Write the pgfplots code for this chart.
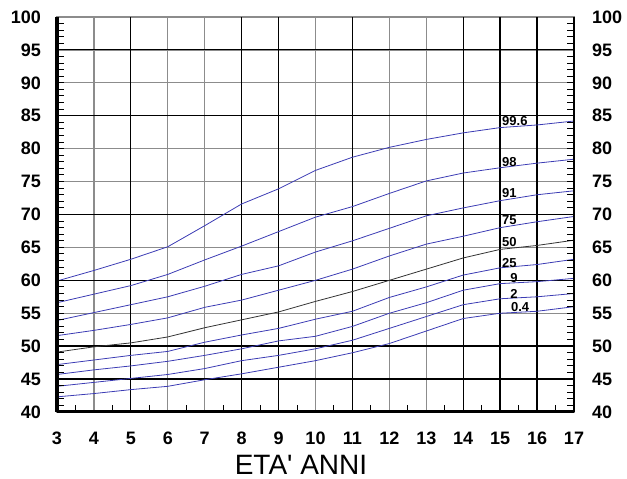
\documentclass[border=0pt]{standalone}
\usepackage{fontspec}
\setmainfont{Liberation Sans}
\newfontfamily\plainfont{Liberation Sans}[Ligatures=TeXOff]
\usepackage{pgfplots}
\pgfplotsset{compat=1.18}
\usepackage{pgfplotstable}

\definecolor{centile}{HTML}{3C3CB4}
\definecolor{median}{HTML}{333333}
\definecolor{gridgray}{HTML}{8C8C8C}

% centili (cm) per eta' in anni
\pgfplotstableread{
eta p004 p02  p09  p25  p50  p75  p91  p98  p996
3   42.3 43.9 45.7 47.2 49.1 51.6 53.9 56.6 59.9
4   42.8 44.5 46.4 47.9 49.9 52.4 55.1 57.9 61.5
5   43.4 45.1 47.0 48.6 50.5 53.3 56.3 59.2 63.2
6   43.9 45.7 47.7 49.2 51.4 54.3 57.5 60.9 65.1
7   44.9 46.6 48.6 50.6 52.8 55.9 59.1 63.1 68.3
8   45.8 47.8 49.6 51.7 54.0 57.0 60.9 65.2 71.6
9   46.8 48.6 50.8 52.7 55.2 58.5 62.2 67.4 73.9
10  47.8 49.6 51.5 54.1 56.8 60.0 64.3 69.6 76.7
11  49.0 50.9 53.0 55.3 58.3 61.7 66.0 71.2 78.7
12  50.4 52.7 55.0 57.4 60.0 63.7 67.9 73.2 80.2
13  52.3 54.5 56.6 59.0 61.7 65.5 69.8 75.1 81.4
14  54.2 56.3 58.5 60.8 63.4 66.7 71.0 76.3 82.4
15  55.0 57.2 59.5 61.9 64.7 68.0 72.1 77.1 83.2
16  55.3 57.5 59.8 62.4 65.3 68.9 73.0 77.8 83.6
17  56.0 58.0 60.3 63.2 66.1 69.7 73.6 78.4 84.2
}\centili

\begin{document}
\begin{tikzpicture}
\pgfplotsset{
  every axis/.append style={
    at={(57bp,67bp)}, anchor=south west,
    scale only axis, width=517bp, height=395bp,
    xmin=3, xmax=17, ymin=40, ymax=100,
    /pgf/number format/assume math mode=true,
    ticklabel style={font=\fontsize{18bp}{19bp}\selectfont\bfseries, inner sep=0pt},
  }
}
\begin{axis}[
  axis line style={gridgray, line width=1.5bp},
  xtick={3,...,17}, ytick={40,45,...,100},
  yticklabel pos=left,
  major tick length=0pt,
  grid=major,
  major grid style={gridgray, line width=1.2bp},
  yticklabel style={anchor=east, xshift=-16bp},
  xticklabel style={anchor=north, yshift=-19.7bp},
  clip=false,
]
% linee di griglia piu' marcate
\pgfplotsinvokeforeach{5,11,14}{\draw[black, line width=0.9bp] (axis cs:#1,40) -- (axis cs:#1,100);}
\pgfplotsinvokeforeach{8,9,15,16}{\draw[black, line width=1.6bp] (axis cs:#1,40) -- (axis cs:#1,100);}
\pgfplotsinvokeforeach{70,85,95}{\draw[black, line width=0.9bp] (axis cs:3,#1) -- (axis cs:17,#1);}
\pgfplotsinvokeforeach{45,50,60}{\draw[black, line width=1.6bp] (axis cs:3,#1) -- (axis cs:17,#1);}

\addplot[centile, line width=0.8bp] table[x=eta, y=p004] {\centili};
\addplot[centile, line width=0.8bp] table[x=eta, y=p02] {\centili};
\addplot[centile, line width=0.8bp] table[x=eta, y=p09] {\centili};
\addplot[centile, line width=0.8bp] table[x=eta, y=p25] {\centili};
\addplot[median,  line width=0.8bp] table[x=eta, y=p50] {\centili};
\addplot[centile, line width=0.8bp] table[x=eta, y=p75] {\centili};
\addplot[centile, line width=0.8bp] table[x=eta, y=p91] {\centili};
\addplot[centile, line width=0.8bp] table[x=eta, y=p98] {\centili};
\addplot[centile, line width=0.8bp] table[x=eta, y=p996] {\centili};

\begin{scope}[every node/.style={anchor=west, inner sep=0pt, font=\fontsize{13bp}{13bp}\selectfont\bfseries}]
\node at (axis cs:15.05,84.25) {99.6};
\node at (axis cs:15.05,78.0) {98};
\node at (axis cs:15.05,73.2) {91};
\node at (axis cs:15.05,69.2) {75};
\node at (axis cs:15.05,65.8) {50};
\node at (axis cs:15.05,62.7) {25};
\node at (axis cs:15.27,60.3) {9};
\node at (axis cs:15.27,57.9) {2};
\node at (axis cs:15.29,55.9) {0.4};
\end{scope}

% bordi
\draw[black, line width=2bp] (rel axis cs:1,0) -- (rel axis cs:1,1);
\draw[black, line width=3bp] (rel axis cs:0,0) -- (rel axis cs:1,0);
\draw[black, line width=3.5bp] (rel axis cs:0,0) -- (rel axis cs:0,1);
\end{axis}

% etichette a destra
\begin{axis}[
  hide x axis,
  axis line style={draw=none},
  ytick={40,45,...,100},
  yticklabel pos=right,
  major tick length=0pt,
  ytick style={draw=none},
  yticklabel style={anchor=west, xshift=18bp},
]
\end{axis}

% tacche: 1 cm e mezzo anno
\begin{axis}[
  axis line style={draw=none},
  xtick={3.5,4.5,...,16.5}, ytick={41,42,...,99},
  xticklabels={}, yticklabels={},
  xtick pos=bottom, ytick pos=both,
  tick align=inside,
  major tick length=7bp,
  tick style={black, line width=1bp},
]
\end{axis}

\node[anchor=base, inner sep=0pt, font=\plainfont\fontsize{28bp}{30bp}\selectfont] at (301bp,5bp) {ETA' ANNI};

\pgfresetboundingbox
\useasboundingbox (0,0) rectangle (627bp,479bp);
\end{tikzpicture}
\end{document}
